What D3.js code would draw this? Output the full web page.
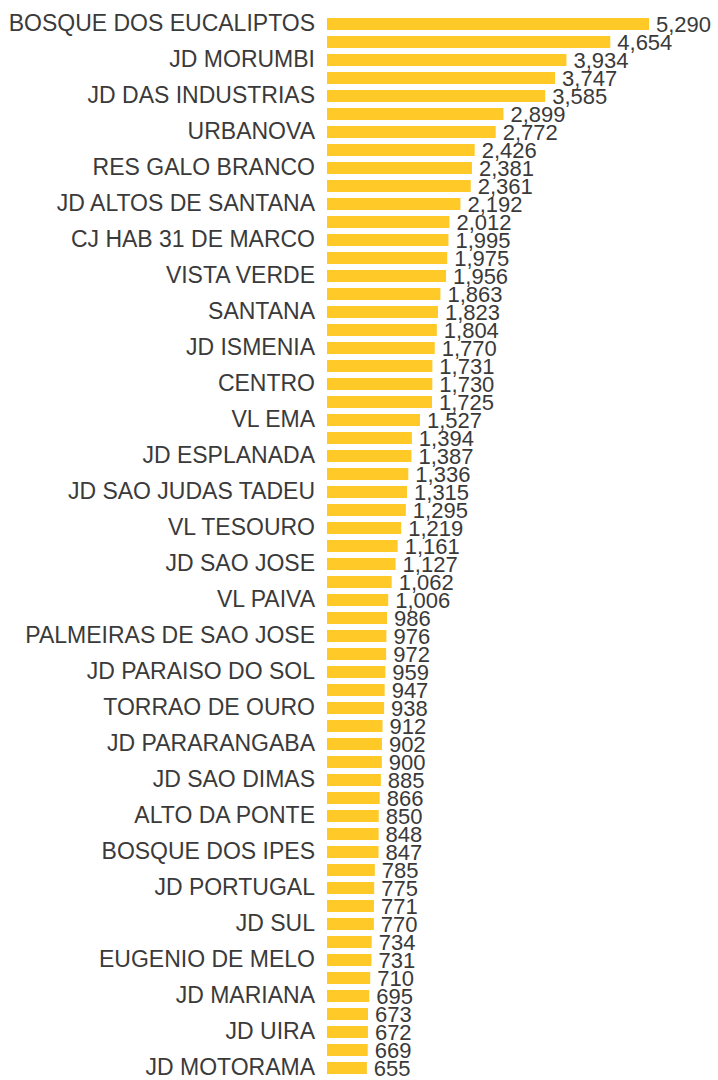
<!DOCTYPE html>
<html>
<head>
<meta charset="utf-8">
<script src="https://cdn.jsdelivr.net/npm/d3@7"></script>
<style>
  body { margin: 0; background: #fff; }
  svg text { font-family: "Liberation Sans", Arial, sans-serif; }
</style>
</head>
<body>
<svg id="svg" width="718" height="1080"></svg>
<script>
// visible axis labels (only every other bar gets one)
var labels = ["BOSQUE DOS EUCALIPTOS", "JD MORUMBI", "JD DAS INDUSTRIAS", "URBANOVA",
  "RES GALO BRANCO", "JD ALTOS DE SANTANA", "CJ HAB 31 DE MARCO", "VISTA VERDE",
  "SANTANA", "JD ISMENIA", "CENTRO", "VL EMA", "JD ESPLANADA", "JD SAO JUDAS TADEU",
  "VL TESOURO", "JD SAO JOSE", "VL PAIVA", "PALMEIRAS DE SAO JOSE", "JD PARAISO DO SOL",
  "TORRAO DE OURO", "JD PARARANGABA", "JD SAO DIMAS", "ALTO DA PONTE", "BOSQUE DOS IPES",
  "JD PORTUGAL", "JD SUL", "EUGENIO DE MELO", "JD MARIANA", "JD UIRA", "JD MOTORAMA"];

var values = [5290, 4654, 3934, 3747, 3585, 2899, 2772, 2426, 2381, 2361,
  2192, 2012, 1995, 1975, 1956, 1863, 1823, 1804, 1770, 1731, 1730, 1725,
  1527, 1394, 1387, 1336, 1315, 1295, 1219, 1161, 1127, 1062, 1006,
  986, 976, 972, 959, 947, 938, 912, 902, 900, 885, 866, 850, 848,
  847, 785, 775, 771, 770, 734, 731, 710, 695, 673, 672, 669, 655];

var svg = d3.select("#svg");
var fmt = d3.format(",");

var y = d3.scaleBand()
  .domain(d3.range(values.length))
  .range([15, 15 + values.length * 18])
  .paddingInner(1/3)
  .paddingOuter(1/6);

var x = d3.scaleLinear()
  .domain([0, d3.max(values)])
  .range([327, 649]);

svg.selectAll("rect.bar")
  .data(values)
  .enter().append("rect")
  .attr("class", "bar")
  .attr("x", x(0))
  .attr("y", function(d, i) { return y(i); })
  .attr("width", function(d) { return x(d) - x(0); })
  .attr("height", y.bandwidth())
  .attr("fill", "#FFC928");

svg.selectAll("text.val")
  .data(values)
  .enter().append("text")
  .attr("class", "val")
  .attr("x", function(d) { return x(d) + 7; })
  .attr("y", function(d, i) { return y(i) + y.bandwidth() / 2; })
  .attr("dy", "0.35em")
  .attr("font-size", 22)
  .attr("fill", "#3a3a3a")
  .text(function(d) { return fmt(d); });

var axis = d3.axisLeft(y)
  .tickValues(d3.range(0, values.length, 2))
  .tickSize(0)
  .tickPadding(12)
  .tickFormat(function(i) { return labels[i / 2]; });

var g = svg.append("g")
  .attr("transform", "translate(" + x(0) + ",0)")
  .call(axis);
g.select(".domain").remove();
g.selectAll("text")
  .attr("font-size", 23)
  .attr("font-family", "Liberation Sans, Arial, sans-serif")
  .attr("fill", "#3a3a3a");
</script>
</body>
</html>
